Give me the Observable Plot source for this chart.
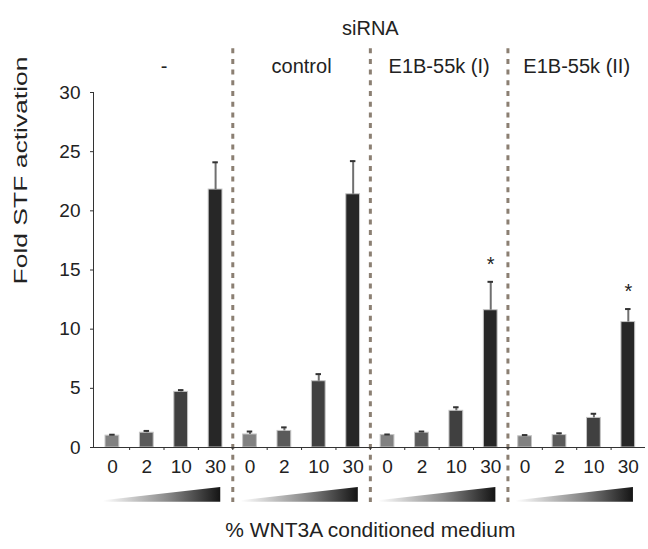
<!DOCTYPE html>
<html><head><meta charset="utf-8">
<script src="https://cdn.jsdelivr.net/npm/d3@7"></script>
<script src="https://cdn.jsdelivr.net/npm/@observablehq/plot@0.6"></script>
<style>
html,body{margin:0;padding:0;background:#fff;}
#chart svg{display:block;}
</style></head><body><div id="chart"></div>
<script>
// ---- data ----
const title = "siRNA";
const groups = ["-", "control", "E1B-55k (I)", "E1B-55k (II)"];
const doses = ["0", "2", "10", "30"];
const yTicks = [0, 5, 10, 15, 20, 25, 30];
const yLabel = "Fold STF activation";
const xLabel = "% WNT3A conditioned medium";
// mean fold activation per group (rows) and dose (columns)
const means = [
  [1.0, 1.25, 4.7, 21.8],
  [1.1, 1.4, 5.6, 21.4],
  [1.05, 1.25, 3.1, 11.6],
  [0.95, 1.05, 2.5, 10.6]
];
const errors = [
  [0.08, 0.15, 0.15, 2.3],
  [0.25, 0.3, 0.6, 2.8],
  [0.05, 0.1, 0.3, 2.4],
  [0.1, 0.15, 0.35, 1.1]
];
const significant = [
  [false, false, false, false],
  [false, false, false, false],
  [false, false, false, true],
  [false, false, false, true]
];
const doseColors = ["#818181", "#5a5a5a", "#404040", "#272727"];

// ---- derived table ----
const nd = doses.length;
const nSlots = groups.length * nd;
const rows = [];
groups.forEach((g, gi) => doses.forEach((d, di) => {
  const slot = gi * nd + di;
  rows.push({group: g, dose: d, slot, center: slot + 0.5,
    mean: means[gi][di], err: errors[gi][di], top: means[gi][di] + errors[gi][di],
    sig: significant[gi][di], color: doseColors[di]});
}));
const xMin = -0.05;
const boundaries = d3.range(1, nSlots);
const separators = d3.range(1, groups.length).map(i => i * nd);
const wedges = [];
groups.forEach((g, gi) => {
  wedges.push({g, x: gi * nd + 0.24, y1: -4.62, y2: -4.5});
  wedges.push({g, x: gi * nd + 3.65, y1: -4.62, y2: -3.38});
});

const font = "'Liberation Sans', Arial, sans-serif";
const ink = "#222";

const defs = () => {
  const el = d3.create("svg:defs");
  const lg = el.append("linearGradient").attr("id", "wedgeGrad")
    .attr("x1", "0").attr("x2", "1").attr("y1", "0").attr("y2", "0");
  lg.append("stop").attr("offset", "0").attr("stop-color", "#ffffff");
  lg.append("stop").attr("offset", "0.55").attr("stop-color", "#8a8a8a");
  lg.append("stop").attr("offset", "1").attr("stop-color", "#141414");
  return el.node();
};

const chart = Plot.plot({
  width: 648,
  height: 549,
  marginLeft: 93,
  marginRight: 3,
  marginTop: 92,
  marginBottom: 102,
  style: {fontFamily: font, color: ink, background: "#fff", overflow: "visible"},
  x: {type: "linear", domain: [xMin, nSlots]},
  y: {domain: [0, 30]},
  color: {type: "identity"},
  marks: [
    defs,
    // wedge (gradient triangle) under each group
    Plot.area(wedges, {x1: "x", y1: "y1", y2: "y2", z: "g", fill: "url(#wedgeGrad)"}),
    // group separators
    Plot.ruleX(separators, {y1: 33.7, y2: -4.65, stroke: "#8b7f72", strokeWidth: 3, strokeDasharray: "5,5.7"}),
    // bars
    Plot.rect(rows, {x1: d => d.center - 0.2, x2: d => d.center + 0.2, y1: 0, y2: "mean",
      fill: "color", stroke: "#c4c4c4", strokeWidth: 1}),
    // error bars
    Plot.ruleX(rows, {x: "center", y1: "mean", y2: "top", stroke: "#707070", strokeWidth: 2}),
    Plot.ruleY(rows, {y: "top", x1: d => d.center - 0.08, x2: d => d.center + 0.08, stroke: "#333", strokeWidth: 2}),
    // significance
    Plot.text(rows.filter(d => d.sig), {x: "center", y: "top", text: () => "*", dy: -17, fontSize: 20, fill: ink}),
    // axes
    Plot.ruleX([xMin], {y1: 0, y2: 30, stroke: "#333", strokeWidth: 1}),
    Plot.ruleY([0], {x1: xMin, x2: nSlots, stroke: "#333", strokeWidth: 1}),
    Plot.axisY({ticks: yTicks, tickSize: 3, tickPadding: 10, fontSize: 19, label: null, stroke: "#333"}),
    Plot.axisX({ticks: boundaries, tickSize: 3, tickFormat: () => "", label: null, stroke: "#333"}),
    Plot.axisX({ticks: rows.map(d => d.center), tickSize: 0, tickPadding: 12, fontSize: 19, label: null,
      tickFormat: d => doses[Math.floor(d) % nd]}),
    // titles
    Plot.text([title], {x: () => nSlots / 2, frameAnchor: "top", dy: -72, fontSize: 20, fill: ink}),
    Plot.text(groups, {x: (d, i) => i * nd + nd / 2, frameAnchor: "top", dy: -34, fontSize: 20, fill: ink}),
    Plot.text([yLabel], {frameAnchor: "left", dx: -72, dy: 14.5, rotate: -90, fontSize: 18, fill: ink, className: "ylab"}),
    Plot.text([xLabel], {x: () => nSlots / 2, frameAnchor: "bottom", dy: 89.5, fontSize: 20, fill: ink, className: "xlab"})
  ]
});
chart.querySelectorAll(".ylab text").forEach(t => {
  t.setAttribute("textLength", "228");
  t.setAttribute("lengthAdjust", "spacingAndGlyphs");
});
chart.querySelectorAll(".xlab text").forEach(t => {
  t.setAttribute("textLength", "290");
  t.setAttribute("lengthAdjust", "spacingAndGlyphs");
});
document.getElementById("chart").appendChild(chart);
</script>
</body></html>
